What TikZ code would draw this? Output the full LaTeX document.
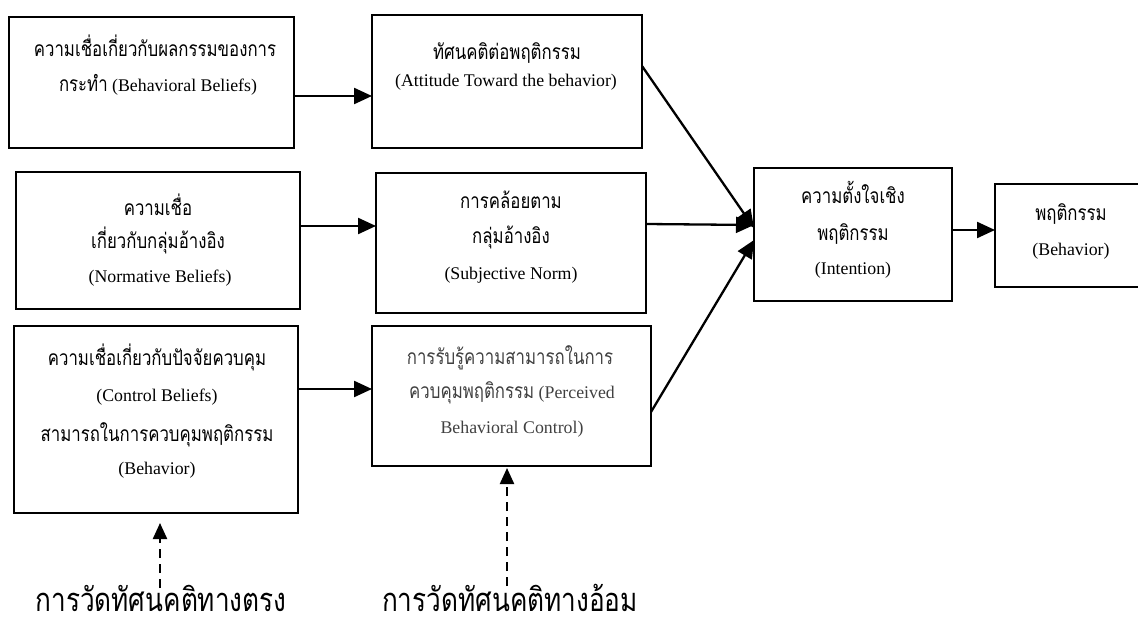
\documentclass[tikz,border=0pt]{standalone}
\usepackage{fontspec}
\setmainfont{Liberation Serif}
\newfontfamily\thai[Script=Thai,FakeStretch=0.8]{Loma}
\usetikzlibrary{arrows.meta}
\newcommand{\T}[1]{{\thai\fontsize{21}{24}\selectfont #1}}
\newcommand{\TB}[1]{{\thai\fontsize{32.7}{38}\selectfont #1}}
\tikzset{
  box/.style={draw, line width=1.8pt, inner sep=0pt, outer sep=0pt},
  txt/.style={anchor=base, inner sep=0pt, font=\fontsize{17.8}{20}\selectfont},
  arr/.style={line width=2.3pt, -{Triangle[length=18pt,width=16pt]}},
  darr/.style={line width=2.2pt, dash pattern=on 9pt off 6pt, -{Triangle[length=16pt,width=14pt]}},
}
\begin{document}
\begin{tikzpicture}[x=1pt,y=-1pt]
\useasboundingbox (0,0) rectangle (1138,628);
% boxes
\node[box, minimum width=285pt, minimum height=131pt] (b1) at (151.5,82.5) {};
\node[box, minimum width=270pt, minimum height=133pt] (b2) at (507,81.5) {};
\node[box, minimum width=284pt, minimum height=137pt] (b3) at (158,240.5) {};
\node[box, minimum width=270pt, minimum height=140pt] (b4) at (511,243) {};
\node[box, minimum width=198pt, minimum height=133pt] (b5) at (853,234.5) {};
\node[box, minimum width=160pt, minimum height=103pt] (b6) at (1075,235.5) {};
\node[box, minimum width=284pt, minimum height=187pt] (b7) at (156,419.5) {};
\node[box, minimum width=279pt, minimum height=140pt] (b8) at (511.5,396) {};
% texts
\node[txt] (t1a) at (155,57) {\T{ความเชื่อเกี่ยวกับผลกรรมของการ}};
\node[txt] (t1b) at (158,92) {\T{กระทำ} (Behavioral Beliefs)};
\node[txt] (t2a) at (507,60) {\T{ทัศนคติต่อพฤติกรรม}};
\node[txt] (t2b) at (506,87) {(Attitude Toward the behavior)};
\node[txt] (t3a) at (158,216) {\T{ความเชื่อ}};
\node[txt] (t3b) at (158,249) {\T{เกี่ยวกับกลุ่มอ้างอิง}};
\node[txt] (t3c) at (160,283) {(Normative Beliefs)};
\node[txt] (t4a) at (511,209) {\T{การคล้อยตาม}};
\node[txt] (t4b) at (511,244) {\T{กลุ่มอ้างอิง}};
\node[txt] (t4c) at (511,280) {(Subjective Norm)};
\node[txt] (t5a) at (853,204) {\T{ความตั้งใจเชิง}};
\node[txt] (t5b) at (853,241) {\T{พฤติกรรม}};
\node[txt] (t5c) at (853,275) {(Intention)};
\node[txt] (t6a) at (1071,221) {\T{พฤติกรรม}};
\node[txt] (t6b) at (1071,256) {(Behavior)};
\node[txt] (t7a) at (157,366) {\T{ความเชื่อเกี่ยวกับปัจจัยควบคุม}};
\node[txt] (t7b) at (157,401) {(Control Beliefs)};
\node[txt] (t7c) at (157,441) {\T{สามารถในการควบคุมพฤติกรรม}};
\node[txt] (t7d) at (157,474) {(Behavior)};
\node[txt, text=black!75] (t8a) at (510,364) {\T{การรับรู้ความสามารถในการ}};
\node[txt, text=black!75] (t8b) at (512,398) {\T{ควบคุมพฤติกรรม} (Perceived};
\node[txt, text=black!75] (t8c) at (512,433) {Behavioral Control)};
\node[txt] (l1) at (161,611) {\TB{การวัดทัศนคติทางตรง}};
\node[txt] (l2) at (510,611) {\TB{การวัดทัศนคติทางอ้อม}};
% connectors
\draw[arr] ([yshift=-13.5pt]b1.east) -- ([yshift=-14.5pt]b2.west);
\draw[arr] ([yshift=14.5pt]b3.east) -- ([yshift=17pt]b4.west);
\draw[arr] ([yshift=30.5pt]b7.east) -- ([yshift=7pt]b8.west);
\draw[arr] ([yshift=15.5pt]b2.east) -- ([yshift=6.5pt]b5.west);
\draw[arr] ([yshift=19pt]b4.east) -- ([yshift=9.5pt]b5.west);
\draw[arr] ([yshift=-16pt]b8.east) -- ([yshift=-5.5pt]b5.west);
\draw[arr] ([yshift=4.5pt]b5.east) -- ([yshift=5.5pt]b6.west);
\coordinate (d1) at (160,588);
\coordinate (d2) at (507,586);
\draw[darr, shorten >=10pt] (d1) -- (d1 |- b7.south);
\draw[darr, shorten >=2pt] (d2) -- (d2 |- b8.south);
\end{tikzpicture}
\end{document}
